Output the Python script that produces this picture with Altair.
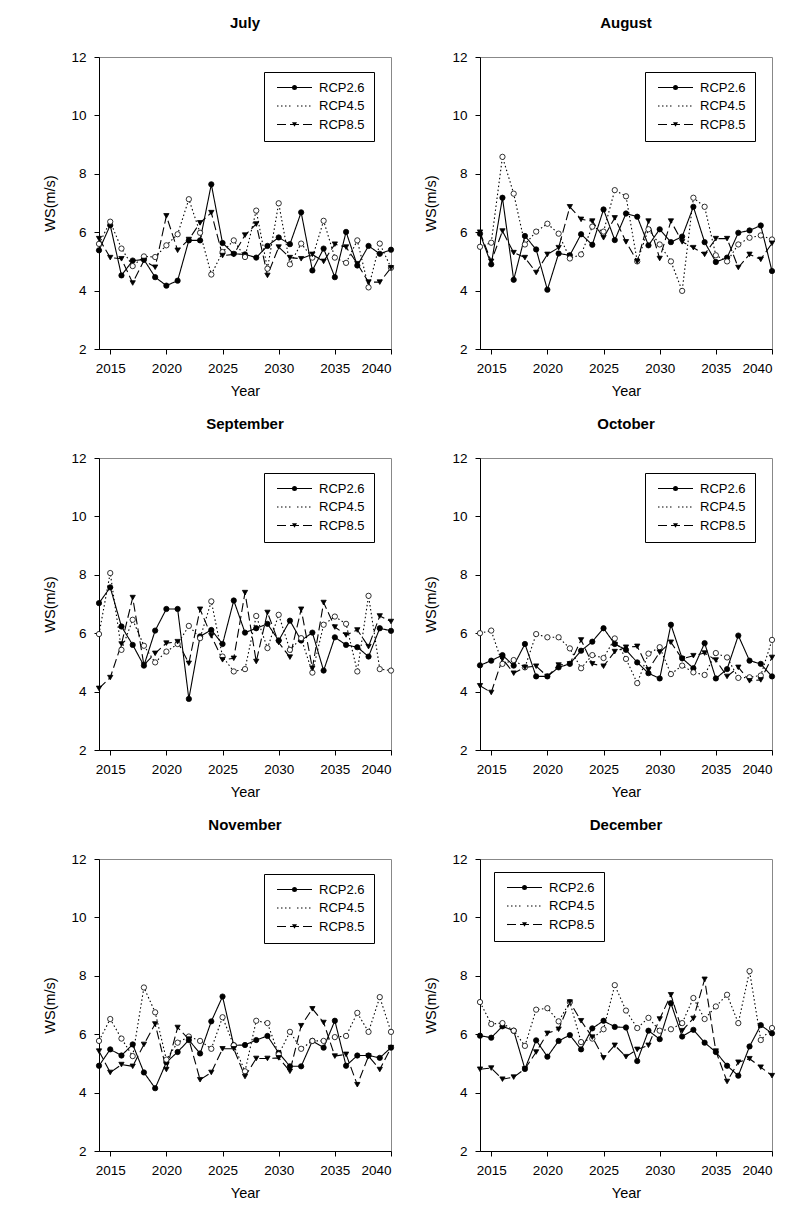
import altair as alt
import pandas as pd

years = list(range(2014, 2041))
series = ["RCP2.6", "RCP4.5", "RCP8.5"]
markers = ["m2.6", "m4.5", "m8.5"]
months = ["July", "August", "September", "October", "November", "December"]

jul_26 = [5.38, 6.24, 4.52, 5.03, 5.06, 4.46, 4.17, 4.34, 5.72, 5.72, 7.64, 5.63, 5.26, 5.24, 5.13, 5.53, 5.82, 5.59, 6.68, 4.69, 5.44, 4.46, 6.01, 4.86, 5.53, 5.26, 5.40]
jul_45 = [5.60, 6.36, 5.44, 4.84, 5.17, 5.15, 5.55, 5.93, 7.13, 5.98, 4.55, 5.32, 5.72, 5.15, 6.74, 4.75, 6.99, 4.90, 5.61, 5.13, 6.39, 5.13, 4.95, 5.72, 4.11, 5.61, 4.78]
jul_85 = [5.78, 5.13, 5.09, 4.26, 5.03, 4.80, 6.56, 5.38, 5.75, 6.32, 6.67, 5.20, 5.24, 5.90, 6.28, 4.52, 5.49, 5.13, 5.09, 5.24, 5.00, 5.59, 5.49, 4.92, 4.29, 4.29, 4.78]

aug_26 = [5.95, 4.90, 7.18, 4.37, 5.87, 5.41, 4.03, 5.27, 5.21, 5.93, 5.57, 6.78, 5.73, 6.64, 6.53, 5.55, 6.10, 5.66, 5.85, 6.87, 5.66, 4.98, 5.13, 5.98, 6.06, 6.23, 4.67]
aug_45 = [5.50, 5.64, 8.58, 7.32, 5.58, 6.02, 6.29, 5.95, 5.10, 5.24, 6.19, 6.02, 7.44, 7.23, 5.00, 6.10, 5.58, 5.00, 3.99, 7.18, 6.87, 5.21, 5.00, 5.58, 5.81, 5.89, 5.75]
aug_85 = [6.00, 5.00, 6.04, 5.30, 5.13, 4.62, 5.24, 5.47, 6.87, 6.44, 6.38, 5.81, 6.49, 5.67, 5.00, 6.38, 5.10, 6.38, 5.67, 5.47, 5.24, 5.78, 5.78, 4.79, 5.24, 5.07, 5.62]

sep_26 = [7.03, 7.57, 6.23, 5.60, 4.89, 6.09, 6.83, 6.83, 3.75, 5.89, 6.11, 5.63, 7.12, 6.02, 6.17, 6.32, 5.75, 6.43, 5.75, 6.02, 4.72, 5.86, 5.60, 5.52, 5.20, 6.17, 6.08]
sep_45 = [5.97, 8.06, 5.43, 6.46, 5.57, 5.00, 5.37, 5.63, 6.25, 5.83, 7.09, 5.20, 4.69, 4.77, 6.59, 5.49, 6.63, 5.43, 5.83, 4.65, 6.29, 6.57, 6.32, 4.69, 7.28, 4.77, 4.72]
sep_85 = [4.11, 4.48, 5.63, 7.22, 4.91, 5.31, 5.66, 5.71, 4.97, 6.82, 5.91, 5.09, 5.14, 7.39, 5.03, 6.71, 5.68, 5.18, 6.82, 4.80, 7.05, 6.21, 5.94, 6.11, 5.54, 6.59, 6.40]

oct_26 = [4.90, 5.06, 5.25, 4.89, 5.63, 4.52, 4.52, 4.83, 4.95, 5.40, 5.71, 6.17, 5.63, 5.43, 5.00, 4.63, 4.45, 6.29, 5.14, 4.80, 5.66, 4.45, 4.77, 5.92, 5.06, 4.95, 4.52]
oct_45 = [6.00, 6.09, 4.95, 5.08, 4.83, 5.97, 5.86, 5.86, 5.48, 4.80, 5.25, 5.15, 5.82, 5.12, 4.29, 5.30, 5.52, 4.60, 4.89, 4.66, 4.57, 5.32, 5.17, 4.47, 4.49, 4.55, 5.77]
oct_85 = [4.20, 3.97, 5.12, 4.63, 4.83, 4.87, 4.52, 4.91, 4.95, 5.77, 4.95, 4.87, 5.37, 5.52, 5.55, 4.75, 5.35, 5.69, 5.12, 5.23, 5.32, 5.08, 4.52, 4.83, 4.37, 4.40, 5.17]

nov_26 = [4.92, 5.48, 5.27, 5.65, 4.69, 4.15, 5.04, 5.39, 5.80, 5.34, 6.44, 7.29, 5.62, 5.63, 5.80, 5.94, 5.36, 4.90, 4.90, 5.77, 5.54, 6.46, 4.92, 5.27, 5.27, 5.19, 5.54]
nov_45 = [5.77, 6.52, 5.85, 5.25, 7.60, 6.75, 5.13, 5.71, 5.92, 5.77, 5.50, 6.58, 5.62, 4.73, 6.46, 6.38, 5.31, 6.08, 5.50, 5.77, 5.77, 5.90, 5.94, 6.73, 6.08, 7.27, 6.08]
nov_85 = [5.42, 4.69, 4.96, 4.90, 5.65, 6.35, 4.79, 6.23, 5.83, 4.44, 4.69, 5.50, 5.50, 4.55, 5.17, 5.17, 5.19, 4.73, 6.29, 6.87, 6.40, 5.25, 5.31, 4.27, 5.25, 4.79, 5.54]

dec_26 = [5.95, 5.88, 6.27, 6.12, 4.81, 5.79, 5.23, 5.77, 5.97, 5.48, 6.20, 6.46, 6.25, 6.23, 5.08, 6.12, 5.83, 7.06, 5.92, 6.15, 5.71, 5.39, 4.92, 4.58, 5.58, 6.31, 6.03]
dec_45 = [7.10, 6.35, 6.38, 6.12, 5.60, 6.84, 6.89, 6.44, 7.10, 5.73, 5.85, 6.17, 7.68, 6.81, 6.21, 6.56, 6.12, 6.17, 6.38, 7.24, 6.52, 6.95, 7.35, 6.38, 8.16, 5.80, 6.21]
dec_85 = [4.80, 4.84, 4.46, 4.53, 4.81, 5.39, 6.03, 6.17, 7.10, 6.46, 5.90, 5.19, 5.62, 5.23, 5.48, 5.62, 6.52, 7.35, 6.12, 6.54, 7.88, 5.42, 4.38, 5.04, 5.16, 4.87, 4.58]

x_ticks = [2015, 2020, 2025, 2030, 2035, 2040]
y_ticks = [2, 4, 6, 8, 10, 12]

month_data = {
    "July": (jul_26, jul_45, jul_85),
    "August": (aug_26, aug_45, aug_85),
    "September": (sep_26, sep_45, sep_85),
    "October": (oct_26, oct_45, oct_85),
    "November": (nov_26, nov_45, nov_85),
    "December": (dec_26, dec_45, dec_85),
}
legend_pos = {
    "July": (165, 15), "August": (165, 15), "September": (165, 15),
    "October": (165, 15), "November": (165, 15), "December": (14, 13),
}

FONT = "Liberation Sans"
PW, PH = 292, 292
SYM = 25  # legend symbol size (sqrt = 5 px)


def panel(month):
    rows = []
    for s, m, vals in zip(series, markers, month_data[month]):
        for yr, v in zip(years, vals):
            rows.append({"year": yr, "ws": v, "series": s, "marker": m})
    df = pd.DataFrame(rows)
    lx, ly = legend_pos[month]

    x = alt.X("year:Q", scale=alt.Scale(domain=[2014, 2040], nice=False, zero=False),
              axis=alt.Axis(values=x_ticks, format="d", title="Year", titleFontWeight="normal",
                            labelPadding=7, titlePadding=10))
    y = alt.Y("ws:Q", scale=alt.Scale(domain=[2, 12], nice=False, zero=False),
              axis=alt.Axis(values=y_ticks, title="WS(m/s)", titleFontWeight="normal",
                            labelPadding=8, titlePadding=13))
    base = alt.Chart(df).encode(x=x, y=y)

    lines = base.mark_line(color="black", strokeWidth=1.1).encode(
        strokeDash=alt.StrokeDash(
            "series:N",
            scale=alt.Scale(domain=series, range=[[1, 0], [1.5, 2.5], [9, 4]]),
            legend=alt.Legend(
                title=None, orient="none", legendX=lx, legendY=ly,
                symbolType="M-1,0H13", symbolSize=SYM, symbolStrokeColor="black",
                symbolFillColor="transparent",
                symbolStrokeWidth=1.1, labelFont=FONT, labelFontSize=13,
                labelColor="black", strokeColor="black", padding=9, rowPadding=4.5,
                labelOffset=33, labelExpr="datum.label + '\u00a0\u00a0\u00a0'",
            ),
        ),
        detail="series:N",
    )

    mleg = alt.Legend(
        title=None, orient="none", legendX=lx + 15, legendY=ly,
        symbolSize=SYM, symbolStrokeColor="black", symbolStrokeWidth=0.8,
        labelFont=FONT, labelFontSize=13, labelOpacity=0, padding=9,
        rowPadding=4.5, labelOffset=33,
    )
    points = base.mark_point(filled=True, stroke="black", strokeWidth=0.8, size=28, opacity=1).encode(
        shape=alt.Shape("marker:N", scale=alt.Scale(domain=markers, range=["circle", "circle", "triangle-down"]), legend=mleg),
        fill=alt.Fill("marker:N", scale=alt.Scale(domain=markers, range=["black", "white", "black"]), legend=mleg),
    )

    return alt.layer(lines, points).properties(
        width=PW, height=PH,
        title=alt.TitleParams(text=month, font=FONT, fontSize=15, fontWeight="bold",
                              frame="group", anchor="middle", offset=19),
    )


chart = alt.concat(*[panel(m) for m in months], columns=2, spacing={"row": 17, "column": 27}).resolve_scale(
    strokeDash="independent", shape="independent", fill="independent"
).resolve_legend(
    strokeDash="independent", shape="independent", fill="independent"
).properties(
    padding={"left": 34, "top": 7, "right": 5, "bottom": 5},
    background="white",
).configure_view(
    stroke="#888888", strokeWidth=1
).configure_axis(
    grid=False, domainColor="black", tickColor="black", labelColor="black",
    titleColor="black", labelFont=FONT, labelFontSize=13.5, titleFont=FONT,
    titleFontSize=14.5, titleFontWeight="normal", tickSize=5,
)

chart.save("out.html", embed_options={"renderer": "svg", "actions": False})
